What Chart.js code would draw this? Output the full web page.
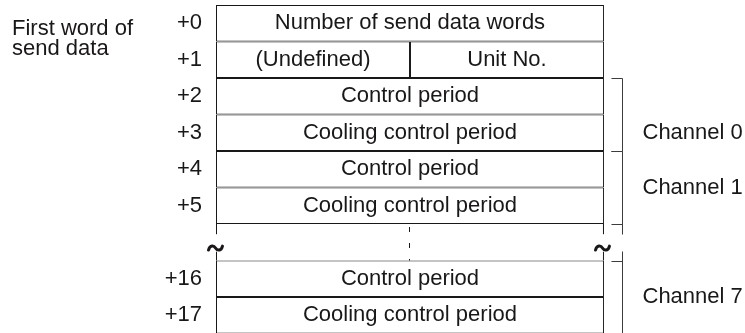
<!DOCTYPE html>
<html>
<head>
<meta charset="utf-8">
<script src="https://cdn.jsdelivr.net/npm/chart.js"></script>
<style>
  html, body { margin: 0; padding: 0; background: #fff; overflow: hidden; }
  #wrap { width: 745px; height: 340px; }
</style>
</head>
<body>
<div id="wrap"><canvas id="words"></canvas></div>
<script>
// word offsets down the left side, '' is the skipped block (+6 .. +15)
const rows = ['+0', '+1', '+2', '+3', '+4', '+5', '', '+16', '+17'];
// each word is split in two halves: 0..1 left byte, 1..2 right byte
const leftSpan = [[0, 2], [0, 1], [0, 2], [0, 2], [0, 2], [0, 2], null, [0, 2], [0, 2]];
const leftText = ['Number of send data words', '(Undefined)', 'Control period', 'Cooling control period',
    'Control period', 'Cooling control period', null, 'Control period', 'Cooling control period'];
const rightSpan = [null, [1, 2], null, null, null, null, null, null, null];
const rightText = [null, 'Unit No.', null, null, null, null, null, null, null];

const channelNames = ['Channel 0', 'Channel 1', 'Channel 7'];
const channelFrom = ['+2', '+4', '+16'];
const channelTo = ['+3', '+5', '+17'];

const sideNote = ['First word of', 'send data'];

const FONT = '"Liberation Sans", Arial, Helvetica, sans-serif';
const INK = '#1a1718';

function seg(ctx, x1, y1, x2, y2) {
    ctx.beginPath();
    ctx.moveTo(x1, y1);
    ctx.lineTo(x2, y2);
    ctx.stroke();
}

function tilde(ctx, cx, cy) {
    ctx.beginPath();
    ctx.moveTo(cx - 7, cy + 2);
    ctx.bezierCurveTo(cx - 5.5, cy - 3.5, cx - 1.5, cy - 2.5, cx, cy);
    ctx.bezierCurveTo(cx + 1.5, cy + 2.5, cx + 5.5, cy + 3.5, cx + 7, cy - 2);
    ctx.stroke();
}

const diagram = {
    id: 'diagram',
    afterDatasetsDraw(chart, args, opts) {
        const {ctx, scales: {x, y}} = chart;
        const rowH = y.getPixelForValue(1) - y.getPixelForValue(0);
        const rowTop = i => y.getPixelForValue(i) - rowH / 2;

        ctx.save();
        ctx.fillStyle = INK;
        ctx.font = '22px ' + FONT;
        ctx.textAlign = 'center';
        ctx.textBaseline = 'middle';

        // text inside the cells
        chart.data.datasets.forEach((ds, di) => {
            chart.getDatasetMeta(di).data.forEach((bar, i) => {
                const t = ds.texts[i];
                if (!t) return;
                ctx.fillText(t, (bar.x + bar.base) / 2, bar.y);
            });
        });

        // skipped block: stubs, tildes and the dashed middle line
        const g = rows.indexOf('');
        const gTop = rowTop(g), gBot = gTop + rowH;
        const xl = x.getPixelForValue(0) + 0.5;
        const xr = x.getPixelForValue(2) - 0.5;
        const xm = Math.round(x.getPixelForValue(1)) - 0.5;
        ctx.strokeStyle = INK;
        ctx.lineWidth = 1;
        [xl, xr].forEach(px => {
            seg(ctx, px, gTop, px, gTop + rowH * 0.28);
            seg(ctx, px, gTop + rowH * 0.76, px, gBot);
        });
        ctx.lineWidth = 3;
        ctx.lineCap = 'round';
        [xl, xr].forEach(px => tilde(ctx, px - 1, gTop + rowH * 0.66));
        ctx.lineCap = 'butt';
        ctx.lineWidth = 1;
        ctx.setLineDash([5, 11]);
        ctx.lineDashOffset = -3;
        seg(ctx, xm, gTop, xm, gBot);
        ctx.setLineDash([]);

        // channel brackets
        const bx = Math.round(xr + 19) + 0.5;
        const tx = xr + 8;
        ctx.strokeStyle = '#3c3c3c';
        ctx.textAlign = 'left';
        channelNames.forEach((name, k) => {
            const i0 = rows.indexOf(channelFrom[k]);
            const i1 = rows.indexOf(channelTo[k]);
            const top = Math.round(rowTop(i0)) + 0.5;
            const bot = Math.round(rowTop(i1) + rowH) + 0.5;
            const lineTop = i0 - 1 === g ? top - 10 : top;
            const lineBot = i1 + 1 === g ? bot + 10 : bot;
            seg(ctx, bx, lineTop, bx, lineBot);
            seg(ctx, tx, top, bx, top);
            if (i1 + 1 < rows.length) seg(ctx, tx, bot, bx, bot);
            ctx.fillText(name, bx + 20, y.getPixelForValue(opts.labelAt[k]));
        });

        // note on the far left
        ctx.textBaseline = 'alphabetic';
        const c0 = y.getPixelForValue(0);
        sideNote.forEach((line, i) => ctx.fillText(line, 12, c0 + 12 + i * 20));
        ctx.restore();
    }
};

const cell = {
    backgroundColor: '#ffffff',
    borderColor: INK,
    borderWidth: 1,
    borderSkipped: false,
    inflateAmount: 0,
    barPercentage: 1,
    categoryPercentage: 1,
    grouped: false
};

new Chart(document.getElementById('words'), {
    type: 'bar',
    data: {
        labels: rows,
        datasets: [
            Object.assign({data: leftSpan, texts: leftText}, cell),
            Object.assign({data: rightSpan, texts: rightText}, cell)
        ]
    },
    options: {
        indexAxis: 'y',
        responsive: true,
        maintainAspectRatio: false,
        devicePixelRatio: 1,
        animation: false,
        layout: {padding: {top: 5, bottom: 6.5, left: 0, right: 0}},
        plugins: {
            legend: {display: false},
            tooltip: {enabled: false},
            diagram: {labelAt: [3, 4.5, 7.5]}
        },
        scales: {
            x: {
                type: 'linear',
                min: 0,
                max: 2.727,
                display: false
            },
            y: {
                type: 'category',
                grid: {display: false, drawTicks: false},
                border: {display: false},
                ticks: {
                    color: INK,
                    padding: 14,
                    font: {family: FONT, size: 22}
                },
                afterFit(scale) {
                    scale.width = 216;
                    scale.paddingTop = 0;
                    scale.paddingBottom = 0;
                }
            }
        }
    },
    plugins: [diagram]
});
</script>
</body>
</html>
